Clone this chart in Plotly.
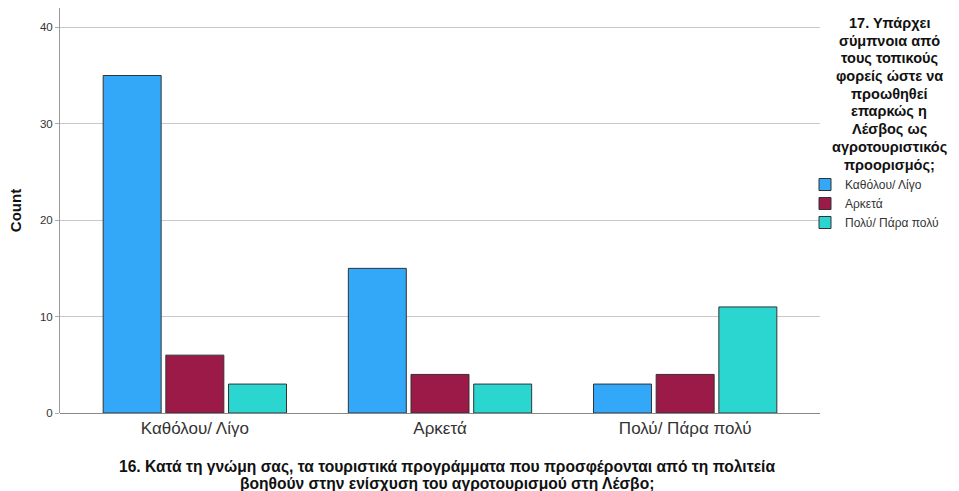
import plotly.graph_objects as go

categories = ["Καθόλου/ Λίγο", "Αρκετά", "Πολύ/ Πάρα πολύ"]
series_names = ["Καθόλου/ Λίγο", "Αρκετά", "Πολύ/ Πάρα πολύ"]
values_katholou = [35, 15, 3]
values_arketa = [6, 4, 4]
values_poly = [3, 3, 11]
y_ticks = [0, 10, 20, 30, 40]

x_title_lines = [
    "16. Κατά τη γνώμη σας, τα τουριστικά προγράμματα που προσφέρονται από τη πολιτεία",
    "βοηθούν στην ενίσχυση του αγροτουρισμού στη Λέσβο;",
]
legend_title_lines = [
    "17. Υπάρχει", "σύμπνοια από", "τους τοπικούς", "φορείς ώστε να", "προωθηθεί",
    "επαρκώς η", "Λέσβος ως", "αγροτουριστικός", "προορισμός;",
]

colors = ["#33a8f8", "#9c1a48", "#2cd6d0"]
series_values = [values_katholou, values_arketa, values_poly]

W, H = 959, 491
ML, MR, MT, MB = 60, 139, 8, 78
plot_h = H - MT - MB
plot_w = W - ML - MR

fig = go.Figure()
for name, vals, col in zip(series_names, series_values, colors):
    fig.add_trace(go.Bar(
        x=categories, y=vals, name=name,
        marker=dict(color=col, line=dict(color="#333333", width=1)),
    ))

annotations = []
# legend title, one annotation per line (centered)
lt_center_px = 889
lt_first_px = 23
lt_step = 17.7
for i, line in enumerate(legend_title_lines):
    ypx = lt_first_px + i * lt_step
    annotations.append(dict(
        text="<b>" + line + "</b>", xref="paper", yref="paper",
        x=(lt_center_px - ML) / plot_w, y=(H - MB - ypx) / plot_h,
        xanchor="center", yanchor="middle", showarrow=False,
        font=dict(size=14.5, color="#111111"),
    ))
# x-axis title, one annotation per line
xt_center_px = 447
xt_first_px = 467
xt_step = 16.5
for i, line in enumerate(x_title_lines):
    ypx = xt_first_px + i * xt_step
    annotations.append(dict(
        text="<b>" + line + "</b>", xref="paper", yref="paper",
        x=(xt_center_px - ML) / plot_w, y=(H - MB - ypx) / plot_h,
        xanchor="center", yanchor="middle", showarrow=False,
        font=dict(size=15.6, color="#111111"),
    ))

fig.update_layout(
    width=W, height=H,
    margin=dict(l=ML, r=MR, t=MT, b=MB),
    paper_bgcolor="white", plot_bgcolor="white",
    barmode="group", bargap=0.233, bargroupgap=0.075,
    font=dict(family="Liberation Sans, Arial, sans-serif", color="#222222"),
    xaxis=dict(
        range=[-0.55, 2.55], showgrid=False, showline=False, automargin=False,
        tickfont=dict(size=17, color="#333333"), ticks="", ticklabelstandoff=3,
    ),
    yaxis=dict(
        range=[0, 42], tickvals=y_ticks, showgrid=True, gridcolor="#c8c8c8",
        gridwidth=1, showline=True, linecolor="#999999", linewidth=1,
        zeroline=True, zerolinecolor="#888888", zerolinewidth=1, automargin=False,
        ticks="outside", ticklen=4, tickcolor="#aaaaaa",
        tickfont=dict(size=11.5, color="#333333"),
        title=dict(text="<b>Count</b>", font=dict(size=15, color="#111111"), standoff=14),
    ),
    legend=dict(
        xref="paper", yref="paper",
        x=(805 - ML) / plot_w, y=(H - MB - 170) / plot_h, xanchor="left", yanchor="top",
        font=dict(size=12, color="#333333"),
        itemwidth=30, tracegroupgap=0,
        bgcolor="rgba(0,0,0,0)",
    ),
    showlegend=True,
    annotations=annotations,
)

fig.write_html("out.html", config={"displayModeBar": False},
               post_script="document.body.style.margin='0px';")
